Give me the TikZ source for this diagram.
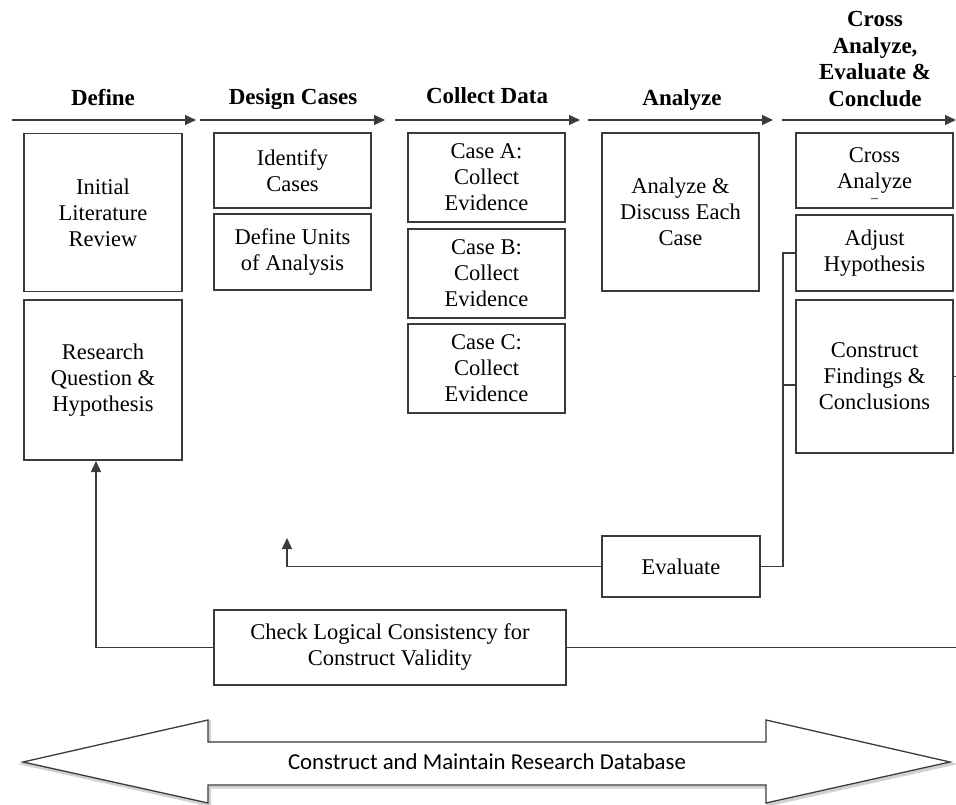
\documentclass[tikz,border=0pt]{standalone}
\usepackage{fontspec}
\setmainfont{Liberation Serif}
\newfontfamily\dbfont{Carlito}
\usetikzlibrary{arrows.meta,calc}
\definecolor{linegray}{HTML}{3A3A3A}
\tikzset{
  box/.style={draw=linegray, line width=1.3pt, align=center, inner sep=2pt,
    font=\fontsize{22.5}{26}\selectfont, text=black},
  hdr/.style={font=\fontsize{23}{26.5}\selectfont\bfseries, align=center, anchor=base},
  phase/.style={line width=1.2pt, draw=linegray, -{Triangle[length=11pt,width=10pt]}},
  conn/.style={line width=1.3pt, draw=linegray},
  connarr/.style={conn, -{Triangle[length=11pt,width=10pt]}},
}
\begin{document}
\begin{tikzpicture}[x=1pt,y=-1pt]
\useasboundingbox (0,0) rectangle (956,805);
% header arrows
\coordinate (h1s) at (12,120); \coordinate (h1e) at (196,120);
\coordinate (h2s) at (200,120); \coordinate (h2e) at (385,120);
\coordinate (h3s) at (395,120); \coordinate (h3e) at (580,120);
\coordinate (h4s) at (588,120); \coordinate (h4e) at (773,120);
\coordinate (h5s) at (782,120); \coordinate (h5e) at (956,120);
\draw[phase] (h1s) -- (h1e);
\draw[phase] (h2s) -- (h2e);
\draw[phase] (h3s) -- (h3e);
\draw[phase] (h4s) -- (h4e);
\draw[phase] (h5s) -- (h5e);
% headers
\node[hdr] (t1) at (103,106) {Define};
\node[hdr] (t2) at (293,105) {Design Cases};
\node[hdr] (t3) at (487,104) {Collect Data};
\node[hdr] (t4) at (682,106) {Analyze};
\node[hdr, anchor=north] (t5) at (875,8) {Cross\\Analyze,\\Evaluate \&\\Conclude};
% boxes
\node[box, minimum width=158pt, minimum height=158pt] (lit) at (103,212.5) {Initial\\Literature\\Review};
\node[box, minimum width=158pt, minimum height=160pt] (rq) at (103,380) {Research\\Question \&\\Hypothesis};
\node[box, minimum width=157pt, minimum height=75pt] (idc) at (292.5,170.5) {Identify\\Cases};
\node[box, minimum width=157pt, minimum height=76pt] (unit) at (292.5,252) {Define Units\\of Analysis};
\node[box, minimum width=157pt, minimum height=89pt] (ca) at (486.5,177.5) {Case A:\\Collect\\Evidence};
\node[box, minimum width=157pt, minimum height=89pt] (cb) at (486.5,273.5) {Case B:\\Collect\\Evidence};
\node[box, minimum width=157pt, minimum height=89pt] (cc) at (486.5,368.5) {Case C:\\Collect\\Evidence};
\node[box, minimum width=157pt, minimum height=158pt] (anl) at (680.5,212) {Analyze \&\\Discuss Each\\Case};
\node[box, minimum width=157pt, minimum height=75pt] (cross) at (874.5,170.5) {Cross\\Analyze};
\node[font=\fontsize{14}{14}\selectfont, inner sep=0pt] (dash) at (874.5,201) {–};
\node[box, minimum width=157pt, minimum height=76pt] (adj) at (874.5,253) {Adjust\\Hypothesis};
\node[box, minimum width=157pt, minimum height=153pt] (cons) at (874.5,376.5) {Construct\\Findings \&\\Conclusions};
\node[box, minimum width=158pt, minimum height=61pt] (eval) at (681,566.5) {Evaluate};
\node[box, minimum width=352pt, minimum height=75pt] (check) at (390,647.5) {Check Logical Consistency for\\Construct Validity};
% connectors
\coordinate (fb) at (287,538);
\draw[connarr] (eval.west) -| (fb);
\coordinate (bus) at (783,253);
\coordinate (busc) at (783,385);
\draw[conn] (eval.east) -| (busc) -- (bus) -- (adj.west);
\draw[conn] (busc) -- (busc -| cons.west);
\coordinate (cr) at (956,376.5);
\draw[conn] (cons.east) -- (cr);
\coordinate (rqin) at (96,461);
\draw[connarr] (check.west) -| (rqin);
\coordinate (chr) at (956,647.5);
\draw[conn] (check.east) -- (chr);
% database arrow
\draw[line width=3pt, draw=black!18, shift={(1.5,2)}]
  (23,762) -- (208,720) -- (208,742) -- (766,742) -- (766,720) -- (950,762)
  -- (766,803) -- (766,785) -- (208,785) -- (208,803) -- cycle;
\draw[line width=1.3pt, draw=linegray, fill=white]
  (23,762) -- (208,720) -- (208,742) -- (766,742) -- (766,720) -- (950,762)
  -- (766,803) -- (766,785) -- (208,785) -- (208,803) -- cycle;
\node[font=\dbfont\fontsize{22.8}{24}\selectfont] (db) at (487,762) {Construct and Maintain Research Database};
\end{tikzpicture}
\end{document}
